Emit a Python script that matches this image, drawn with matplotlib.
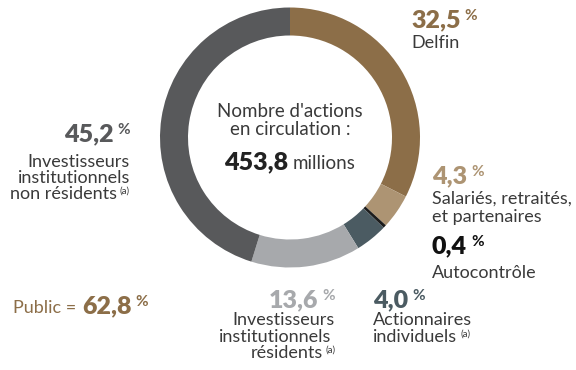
import matplotlib.pyplot as plt

plt.rcParams['font.family'] = ['Lato', 'DejaVu Sans']

# Répartition du capital (en %)
parts = ['Delfin', 'Salariés, retraités, et partenaires', 'Autocontrôle',
         'Actionnaires individuels', 'Investisseurs institutionnels résidents',
         'Investisseurs institutionnels non résidents']
values = [32.5, 4.3, 0.4, 4.0, 13.6, 45.2]
colors = ['#8c6e48', '#ad9473', '#1c1c1c', '#4b5b62', '#a7a9ac', '#58595b']
public_total = 62.8
shares_total = 453.8

W, H = 576, 370
fig = plt.figure(figsize=(W / 100, H / 100), dpi=100)
ax = fig.add_axes([0, 0, 1, 1])

ax.pie(values, colors=colors, startangle=90, counterclock=False,
       center=(290, H - 137.5), radius=130, frame=True,
       wedgeprops=dict(width=28, linewidth=0))
ax.set_xlim(0, W)
ax.set_ylim(0, H)
ax.set_aspect('equal')
ax.axis('off')

renderer = fig.canvas.get_renderer()
TXT = '#3a3a3a'
LBL = 13
NUM = 18
SUP = 11


def Y(py):
    return H - py


def fmt(v):
    return f'{v:.1f}'.replace('.', ',')


def width(t):
    return t.get_window_extent(renderer).width


def pct(x, py, v, color, ha='left'):
    # bold figure followed by a small raised % sign
    n = ax.text(0, Y(py), fmt(v), ha='left', va='baseline',
                fontsize=NUM, fontweight='heavy', color=color)
    p = ax.text(0, Y(py) + 7, '%', ha='left', va='baseline',
                fontsize=SUP, fontweight='bold', color=color)
    wn, wp = width(n), width(p)
    x0 = x if ha == 'left' else x - (wn + 4 + wp)
    n.set_x(x0)
    p.set_x(x0 + wn + 4)


def label(x, py, s, ha='left', note=False, color=TXT):
    t = ax.text(0, Y(py), s, ha='left', va='baseline',
                fontsize=LBL, color=color)
    wt = width(t)
    wa = 0
    if note:
        a = ax.text(0, Y(py) + 5, '(a)', ha='left', va='baseline',
                    fontsize=7, color=color)
        wa = width(a) + 3
    x0 = x if ha == 'left' else x - (wt + wa)
    t.set_x(x0)
    if note:
        a.set_x(x0 + wt + 3)


# Delfin
pct(411, 27, values[0], colors[0])
label(411, 48, 'Delfin')

# Salariés
pct(432, 183, values[1], colors[1])
label(432, 204, 'Salariés, retraités,')
label(432, 222, 'et partenaires')

# Autocontrôle
pct(432, 253, values[2], '#111111')
label(432, 278, 'Autocontrôle')

# Actionnaires individuels
pct(373, 307, values[3], colors[3])
label(373, 325, 'Actionnaires')
label(373, 342, 'individuels', note=True)

# Investisseurs résidents
pct(335, 307, values[4], colors[4], ha='right')
label(335, 325, 'Investisseurs', ha='right')
label(331, 342, 'institutionnels', ha='right')
label(336, 358, 'résidents', ha='right', note=True)

# Investisseurs non résidents
pct(130, 141, values[5], colors[5], ha='right')
label(130, 167, 'Investisseurs', ha='right')
label(130, 183, 'institutionnels', ha='right')
label(130, 199, 'non résidents', ha='right', note=True)

# Public
t = ax.text(13, Y(313), 'Public =', ha='left', va='baseline',
            fontsize=LBL, color=colors[0])
pct(13 + width(t) + 6, 313, public_total, colors[0])

# Centre du donut
ax.text(290, Y(117), "Nombre d'actions", ha='center', va='baseline',
        fontsize=13.5, color=TXT)
ax.text(290, Y(135), 'en circulation :', ha='center', va='baseline',
        fontsize=13.5, color=TXT)
c = ax.text(0, Y(169), fmt(shares_total), ha='left', va='baseline',
            fontsize=NUM, fontweight='heavy', color='#222222')
m = ax.text(0, Y(169), 'millions', ha='left', va='baseline',
            fontsize=13.5, color=TXT)
wc, wm = width(c), width(m)
x0 = 290 - (wc + 5 + wm) / 2
c.set_x(x0)
m.set_x(x0 + wc + 5)

fig.savefig('out.png', dpi=100)
